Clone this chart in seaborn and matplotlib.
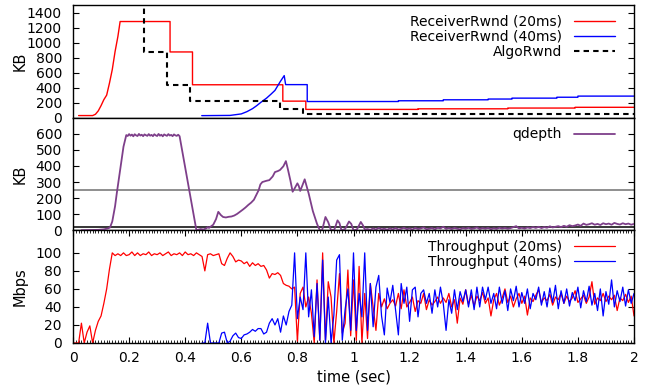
import numpy as np
import pandas as pd
import matplotlib
matplotlib.use("Agg")
import matplotlib.pyplot as plt
import seaborn as sns
from matplotlib.ticker import MultipleLocator, FuncFormatter

# ---------------- Panel 1: receive windows (KB) ----------------
rwnd20_t = [0.02, 0.07, 0.08, 0.09, 0.10, 0.11, 0.12, 0.13, 0.14, 0.15, 0.16, 0.168,
            0.346, 0.346, 0.426, 0.426, 0.748, 0.748, 0.83, 0.83, 1.23, 1.23,
            1.55, 1.55, 1.79, 1.79, 2.0]
rwnd20_kb = [28, 28, 45, 90, 160, 240, 300, 460, 640, 880, 1080, 1280,
             1280, 875, 875, 438, 438, 220, 220, 110, 110, 118,
             118, 128, 128, 138, 138]

rwnd40_t = [0.459, 0.56, 0.58, 0.60, 0.62, 0.64, 0.655, 0.67, 0.69, 0.705, 0.72, 0.738,
            0.753, 0.758, 0.835, 0.835, 1.16, 1.16, 1.32, 1.32, 1.48, 1.48,
            1.565, 1.565, 1.725, 1.725, 1.80, 1.80, 2.0]
rwnd40_kb = [27, 30, 40, 50, 80, 120, 160, 205, 260, 310, 363, 475,
             560, 440, 440, 215, 215, 225, 225, 238, 238, 248,
             248, 260, 260, 272, 272, 287, 287]

algo_t = [0.254, 0.254, 0.335, 0.335, 0.417, 0.417, 0.738, 0.738, 0.821, 0.821, 2.0]
algo_kb = [1800, 875, 875, 438, 438, 225, 225, 110, 110, 55, 55]

# ---------------- Panel 2: queue depth (KB) ----------------
qd_head_t = [0.03, 0.06, 0.09, 0.11, 0.125, 0.132, 0.14, 0.15, 0.156, 0.168, 0.18]
qd_head_kb = [1, 2, 3, 6, 12, 18, 55, 150, 229, 375, 520]
qd_plateau_kb = [592, 586, 598, 588, 595, 584, 597, 590, 586, 599, 589, 594, 585,
                 596, 591, 587, 598, 588, 593, 585, 597, 590, 586, 599, 588, 594,
                 584, 596, 591, 587, 598, 589, 593, 585, 596, 590, 587, 594]
qd_mid_t = [0.38, 0.44, 0.445, 0.455, 0.465, 0.475, 0.48, 0.485, 0.49, 0.50, 0.51,
            0.518, 0.527, 0.535, 0.545, 0.555, 0.565, 0.575, 0.585, 0.595, 0.605,
            0.615, 0.625, 0.635, 0.645, 0.655, 0.662, 0.668, 0.675, 0.69, 0.70,
            0.712, 0.72, 0.73, 0.738, 0.75, 0.759, 0.766, 0.775, 0.783, 0.79, 0.80,
            0.805, 0.81, 0.818, 0.826, 0.84, 0.855, 0.87, 0.88, 0.888, 0.90, 0.91,
            0.92, 0.932, 0.943, 0.95, 0.957, 0.97, 0.984, 0.992, 1.0, 1.012, 1.026,
            1.034, 1.04]
qd_mid_kb = [585, 0, 3, 8, 5, 12, 20, 15, 22, 35, 70,
             115, 95, 83, 80, 84, 86, 92, 102, 115, 128,
             142, 158, 172, 190, 225, 250, 285, 300, 308, 312,
             335, 362, 368, 375, 398, 430, 380, 310, 240, 260, 292,
             275, 245, 280, 317, 230, 120, 40, 0, 0, 83, 50,
             0, 5, 62, 45, 0, 8, 55, 40, 0, 5, 52,
             30, 5]
qd_tail_kb = [8, 3, 12, 5, 15, 6, 10, 4, 12, 6,
              14, 5, 9, 16, 7, 12, 5, 15, 8, 12,
              18, 7, 10, 14, 6, 16, 12, 22, 9, 14,
              8, 15, 10, 6, 14, 10, 16, 9, 12, 18,
              8, 14, 10, 15, 7, 13, 9, 16, 11, 15,
              10, 14, 20, 26, 12, 16, 11, 18, 14, 20,
              15, 22, 14, 20, 16, 25, 18, 22, 26, 20,
              28, 22, 32, 26, 30, 36, 28, 42, 34, 38,
              44, 35, 40, 33, 44, 38, 42, 35, 46, 40,
              36, 44, 38, 42, 35, 40]
qd_ref_lines = [250, 20]

# ---------------- Panel 3: throughput (Mbps), sampled every 10 ms ----------------
tp20_mbps = [0, 0, 0, 22, 0, 12, 19, 0, 14, 24,
             30, 44, 60, 82, 100, 97, 99, 97, 100, 97,
             98, 101, 97, 100, 97, 99, 98, 101, 97, 99,
             98, 100, 97, 99, 101, 97, 99, 98, 100, 97,
             101, 98, 99, 97, 100, 98, 96, 80, 98, 99,
             97, 98, 99, 88, 86, 94, 100, 96, 90, 92,
             91, 88, 90, 85, 89, 86, 88, 85, 86, 81,
             72, 77, 76, 78, 75, 66, 64, 63, 60, 62,
             2, 55, 62, 40, 51, 33, 0, 70, 3, 100,
             3, 68, 51, 0, 35, 77, 11, 22, 81, 8,
             70, 3, 85, 0, 55, 5, 66, 40, 14, 55,
             40, 49, 38, 44, 48, 41, 55, 38, 59, 40,
             45, 51, 35, 47, 44, 55, 37, 48, 42, 46,
             51, 44, 50, 45, 55, 40, 48, 22, 50, 43,
             59, 43, 53, 41, 52, 47, 56, 44, 50, 30,
             48, 55, 42, 50, 60, 45, 52, 40, 49, 55,
             44, 52, 31, 50, 46, 53, 59, 45, 50, 47,
             54, 42, 51, 48, 55, 44, 52, 46, 50, 58,
             45, 49, 53, 44, 51, 68, 43, 50, 47, 55,
             46, 52, 48, 53, 36, 50, 47, 54, 45, 52,
             30]
tp40_start = 0.46
tp40_mbps = [0, 0, 22, 0,
             0, 0, 0, 11, 12, 0, 2, 8, 11, 6,
             5, 9, 10, 12, 15, 13, 16, 16, 10, 12,
             22, 27, 20, 27, 12, 30, 20, 35, 42, 100,
             27, 51, 37, 100, 29, 59, 7, 66, 3, 92,
             0, 51, 0, 31, 92, 98, 3, 37, 60, 14,
             100, 14, 55, 29, 100, 14, 66, 18, 62, 75,
             30, 9, 61, 45, 64, 37, 9, 66, 44, 62,
             24, 59, 62, 29, 55, 59, 44, 55, 33, 59,
             40, 62, 44, 14, 48, 33, 59, 37, 57, 46,
             59, 40, 59, 37, 62, 40, 62, 48, 62, 44,
             55, 38, 62, 44, 58, 36, 60, 47, 63, 40,
             56, 44, 60, 38, 55, 48, 62, 42, 57, 40,
             61, 45, 64, 38, 58, 44, 60, 41, 56, 47,
             62, 39, 58, 46, 63, 42, 55, 36, 60, 30,
             57, 43, 70, 40, 58, 46, 62, 41, 59, 44,
             55]
tp_dt = 0.01

# ---------------- assemble ----------------
plateau_t = list(np.round(0.19 + 0.005 * np.arange(len(qd_plateau_kb)), 3))
tail_t = list(np.round(1.05 + 0.01 * np.arange(len(qd_tail_kb)), 2))
qd_t = qd_head_t + plateau_t + qd_mid_t + tail_t
qd_kb = qd_head_kb + qd_plateau_kb + qd_mid_kb + qd_tail_kb

tp20_t = np.round(np.arange(len(tp20_mbps)) * tp_dt, 2)
tp40_t = np.round(tp40_start + np.arange(len(tp40_mbps)) * tp_dt, 2)

sns.set_theme(style="ticks")
plt.rcParams.update({
    "font.family": ["DejaVu Sans"],
    "font.size": 10,
    "axes.labelsize": 10.5,
    "legend.fontsize": 10,
    "axes.edgecolor": "black",
    "axes.linewidth": 1.0,
    "text.color": "black",
    "axes.labelcolor": "black",
    "xtick.color": "black",
    "ytick.color": "black",
})

fig = plt.figure(figsize=(6.49, 3.88), dpi=100)
gs = fig.add_gridspec(3, 1, left=73 / 649, right=634 / 649,
                      top=1 - 5 / 388, bottom=1 - 343 / 388, hspace=0)
ax1 = fig.add_subplot(gs[0])
ax2 = fig.add_subplot(gs[1], sharex=ax1)
ax3 = fig.add_subplot(gs[2], sharex=ax1)

# Panel 1
sns.lineplot(x=rwnd20_t, y=rwnd20_kb, ax=ax1, color="#ff0000", lw=1.0,
             estimator=None, sort=False, label="ReceiverRwnd (20ms)")
sns.lineplot(x=rwnd40_t, y=rwnd40_kb, ax=ax1, color="#0000ff", lw=1.0,
             estimator=None, sort=False, label="ReceiverRwnd (40ms)")
sns.lineplot(x=algo_t, y=algo_kb, ax=ax1, color="black", lw=1.5,
             linestyle=(0, (2.6, 2.0)), estimator=None, sort=False, label="AlgoRwnd")
ax1.set_ylim(0, 1500)
ax1.set_yticks(np.arange(0, 1401, 200))

# Panel 2
for yv, col in zip(qd_ref_lines, ["#707070", "black"]):
    ax2.axhline(yv, color=col, lw=1.1, zorder=1)
sns.lineplot(x=qd_t, y=qd_kb, ax=ax2, color="#7e3f8a", lw=1.3,
             estimator=None, sort=False, label="qdepth", zorder=3)
ax2.set_ylim(0, 700)
ax2.set_yticks(np.arange(0, 601, 100))

# Panel 3
sns.lineplot(x=tp20_t, y=tp20_mbps, ax=ax3, color="#ff0000", lw=0.9,
             estimator=None, sort=False, label="Throughput (20ms)")
sns.lineplot(x=tp40_t, y=tp40_mbps, ax=ax3, color="#0000ff", lw=0.9,
             estimator=None, sort=False, label="Throughput (40ms)")
ax3.set_ylim(0, 125)
ax3.set_yticks(np.arange(0, 101, 20))

ax3.set_xlim(0, 2)
ax3.xaxis.set_major_locator(MultipleLocator(0.2))
ax3.xaxis.set_minor_locator(MultipleLocator(0.01))
ax3.xaxis.set_major_formatter(FuncFormatter(lambda v, p: "%g" % round(v, 2)))
ax3.set_xlabel("time (sec)", labelpad=3)

for ax, lab in zip([ax1, ax2, ax3], ["KB", "KB", "Mbps"]):
    ax.set_ylabel(lab)
    ax.yaxis.set_label_coords(-0.08, 0.5)
    ax.tick_params(axis="y", which="both", direction="in", left=True, right=True,
                   length=4.5, width=0.8, pad=8, labelsize=10)
    for s in ax.spines.values():
        s.set_visible(True)
        s.set_color("black")
        s.set_linewidth(1.0)

for ax in [ax1, ax2]:
    ax.tick_params(axis="x", which="both", bottom=False, top=False, labelbottom=False)

ax3.tick_params(axis="x", which="major", direction="in", top=True, bottom=True,
                length=4.5, width=0.8, pad=6, labelsize=10)
ax3.tick_params(axis="x", which="minor", direction="in", top=True, bottom=True,
                length=2.2, width=0.6)

for ax in [ax1, ax2, ax3]:
    ax.legend(loc="upper right", bbox_to_anchor=(1.0 - 9 / 561, 1.0), frameon=False,
              markerfirst=False, handlelength=3.0, handletextpad=0.85,
              labelspacing=0.08, borderaxespad=0.3, fontsize=10)

fig.savefig("out.png", dpi=100)
